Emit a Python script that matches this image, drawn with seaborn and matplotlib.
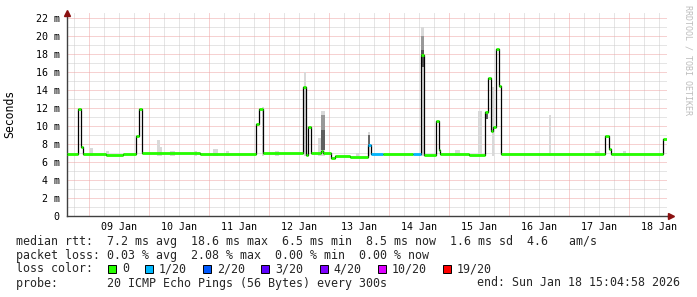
import matplotlib
matplotlib.use("Agg")
import matplotlib.pyplot as plt
from matplotlib.ticker import MultipleLocator, FixedLocator
from matplotlib.patches import Rectangle
import numpy as np
import pandas as pd
import seaborn as sns

# ---------------- data ----------------
# median RTT steps: start (day of Jan 2026, fractional), median (ms), loss index
seg_start = [8.628, 8.817, 8.867, 8.900, 9.283, 9.567, 9.775, 9.833, 9.875, 10.85,
             11.775, 11.825, 11.908, 12.572, 12.617, 12.650, 12.692, 12.867, 12.908,
             13.025, 13.100, 13.350, 13.655, 13.695, 13.905, 14.400, 14.525, 14.575,
             14.775, 14.833, 14.858, 15.333, 15.608, 15.658, 15.695, 15.738, 15.775,
             15.825, 15.862, 17.605, 17.658, 17.700, 18.572]
seg_median = [6.9, 11.9, 7.7, 6.9, 6.8, 6.9, 8.9, 11.9, 7.0, 6.9,
              10.2, 11.9, 6.95, 14.4, 6.8, 9.9, 6.95, 7.2, 6.95,
              6.45, 6.6, 6.55, 7.9, 6.85, 6.9, 6.85, 17.9, 6.8,
              10.6, 7.35, 6.85, 6.8, 11.55, 15.3, 9.4, 9.9, 18.6,
              14.5, 6.9, 8.9, 7.4, 6.9, 8.5]
seg_loss = [0] * 22 + [1, 1, 0, 1] + [0] * 17
t_end = 18.628

# smoke (spread of the 20 pings): light envelope
smoke_start = [9.017, 9.283, 10.133, 10.183, 10.35, 10.75, 11.067, 11.283, 11.883, 12.1,
               12.583, 12.817, 12.867, 13.45, 13.642, 14.525, 15.1, 15.475, 15.717,
               16.667, 17.433, 17.9]
smoke_end = [9.067, 9.333, 10.183, 10.217, 10.433, 10.8, 11.15, 11.333, 11.917, 12.167,
             12.617, 12.867, 12.933, 13.5, 13.683, 14.575, 15.183, 15.542, 15.75,
             16.7, 17.517, 17.95]
smoke_top = [7.5, 7.2, 8.4, 7.6, 7.2, 7.2, 7.4, 7.2, 12.1, 7.25,
             16.0, 8.6, 11.7, 7.0, 9.3, 21.0, 7.3, 11.65, 14.3,
             11.2, 7.2, 7.15]
# denser smoke cores
core_start = [12.867, 12.867, 13.642, 14.525, 14.525, 15.608]
core_end = [12.933, 12.933, 13.683, 14.575, 14.575, 15.658]
core_lo = [9.5, 7.3, 7.6, 18.5, 16.6, 10.8]
core_hi = [11.2, 9.5, 9.0, 20.0, 18.5, 11.4]
core_density = [0.35, 0.65, 0.6, 0.35, 0.7, 0.65]

day_ticks = [9.5, 10.5, 11.5, 12.5, 13.5, 14.5, 15.5, 16.5, 17.5, 18.5]
day_labels = ["09 Jan", "10 Jan", "11 Jan", "12 Jan", "13 Jan", "14 Jan",
              "15 Jan", "16 Jan", "17 Jan", "18 Jan"]
y_ticks = [0, 2, 4, 6, 8, 10, 12, 14, 16, 18, 20, 22]
y_labels = ["0", "2 m", "4 m", "6 m", "8 m", "10 m", "12 m", "14 m", "16 m",
            "18 m", "20 m", "22 m"]

loss_labels = ["0", "1/20", "2/20", "3/20", "4/20", "10/20", "19/20"]
loss_colors = ["#26ff00", "#00b8ff", "#0059ff", "#5e00ff", "#7e00ff", "#dd00ff", "#ff0000"]

stat_rtt = "median rtt:  7.2 ms avg  18.6 ms max  6.5 ms min  8.5 ms now  1.6 ms sd  4.6   am/s"
stat_loss = "packet loss: 0.03 % avg  2.08 % max  0.00 % min  0.00 % now"
probe_line = "probe:       20 ICMP Echo Pings (56 Bytes) every 300s"
end_line = "end: Sun Jan 18 15:04:58 2026"

# ---------------- drawing ----------------
sns.set_theme(style="white")
plt.rcParams["font.family"] = ["DejaVu Sans Mono", "DejaVu Sans"]
MONO = "DejaVu Sans Mono"

W, H = 697, 297
fig = plt.figure(figsize=(W / 100, H / 100), dpi=100)
fig.patch.set_facecolor("white")

px_per_ms = 8.955
ax_left, ax_right, ax_top, ax_bot = 66.7, 666.7, 13.0, 215.5
ax = fig.add_axes([ax_left / W, (H - ax_bot) / H, (ax_right - ax_left) / W,
                   (ax_bot - ax_top) / H])
ax.set_facecolor("white")
ax.set_xlim(seg_start[0], t_end)
ax.set_ylim(0, (ax_bot - ax_top) / px_per_ms)

# grids
ax.set_axisbelow(True)
ax.set_yticks(y_ticks)
ax.set_yticklabels(y_labels)
ax.yaxis.set_minor_locator(MultipleLocator(1))
ax.set_xticks(day_ticks)
ax.set_xticklabels(day_labels)
six_hours = [v for v in np.arange(8.75, t_end, 0.25) if abs(v - round(v)) > 1e-6]
ax.xaxis.set_minor_locator(FixedLocator(six_hours))
ax.xaxis.remove_overlapping_locs = False
dot = (0, (1, 1))
ax.grid(which="minor", axis="both", color="#cccccc", ls=dot, lw=0.72)
ax.grid(which="major", axis="y", color="#eea4a4", ls=dot, lw=0.72)
ax.grid(which="major", axis="x", visible=False)
midnights = [d - 0.5 for d in day_ticks]
ax.vlines(midnights, 0, 1, transform=ax.get_xaxis_transform(), colors="#eea4a4",
          linestyles=[dot], lw=0.72, zorder=0.8)

# smoke
ax.bar(smoke_start, np.array(smoke_top) - 6.7, width=np.array(smoke_end) - np.array(smoke_start),
       bottom=6.7, align="edge", color="#d9d9d9", lw=0, zorder=1)
gray = plt.get_cmap("Greys")
ax.bar(core_start, np.array(core_hi) - np.array(core_lo),
       width=np.array(core_end) - np.array(core_start), bottom=core_lo, align="edge",
       color=[gray(0.25 + 0.7 * d) for d in core_density], lw=0, zorder=1.5)

# median line (black steps) + loss-coloured median segments
df = pd.DataFrame({"day": seg_start + [t_end], "median": seg_median + [seg_median[-1]]})
sns.lineplot(data=df, x="day", y="median", drawstyle="steps-post", color="black",
             lw=0.9, estimator=None, ax=ax, zorder=3)
seg_end = seg_start[1:] + [t_end]
ax.hlines(seg_median, seg_start, seg_end, colors=[loss_colors[l] for l in seg_loss],
          lw=2.0, zorder=4, capstyle="butt")

ax.set_xlabel("")
ax.set_ylabel("")

# spines & ticks
for s in ["top", "right"]:
    ax.spines[s].set_visible(False)
for s in ["left", "bottom"]:
    ax.spines[s].set_color("#404040")
    ax.spines[s].set_linewidth(1.0)
ax.tick_params(axis="x", which="major", length=0, pad=5, labelsize=7.2, labelcolor="black")
ax.tick_params(axis="x", which="minor", length=2.5, color="#404040", width=0.8)
ax.tick_params(axis="y", which="both", length=3, color="#404040", width=0.8, pad=2,
               labelsize=7.2, labelcolor="black")
for lab in ax.get_xticklabels() + ax.get_yticklabels():
    lab.set_family(MONO)

# axis arrows
ax.plot([0], [1.0], marker="^", ms=5, color="#8b1010", transform=ax.transAxes,
        clip_on=False, zorder=6)
ax.plot([1.0 + 4 / 600], [0], marker=">", ms=5, color="#8b1010", transform=ax.transAxes,
        clip_on=False, zorder=6)
ax.plot([1.0, 1.0 + 4 / 600], [0, 0], color="#404040", lw=1.0, transform=ax.transAxes,
        clip_on=False, zorder=5)

# labels
fig.text(10 / W, 1 - 114 / H, "Seconds", rotation=90, ha="center", va="center",
         fontsize=8.3, family=MONO, color="black")
fig.text(688 / W, 1 - 5 / H, "RRDTOOL / TOBI OETIKER", rotation=270, ha="center", va="top",
         fontsize=6.0, family=MONO, color="#bdbdbd")

# legend / stats text
FS = 8.4
x0 = 15.5
fig.text(x0 / W, 1 - 241 / H, stat_rtt, ha="left", va="center", fontsize=FS, family=MONO)
fig.text(x0 / W, 1 - 255 / H, stat_loss, ha="left", va="center", fontsize=FS, family=MONO)
fig.text(x0 / W, 1 - 269 / H, "loss color:", ha="left", va="center", fontsize=FS, family=MONO)
fig.text(x0 / W, 1 - 283 / H, probe_line, ha="left", va="center", fontsize=FS, family=MONO)
fig.text(680 / W, 1 - 283 / H, end_line, ha="right", va="center", fontsize=FS, family=MONO)

adv = 7.12
bx = 108.3
for lab, col in zip(loss_labels, loss_colors):
    fig.patches.append(Rectangle(((bx) / W, 1 - 273 / H), 8 / W, 8 / H, facecolor=col,
                                 edgecolor="black", lw=0.7, transform=fig.transFigure,
                                 figure=fig))
    tx = bx + 13.7
    fig.text(tx / W, 1 - 269 / H, lab, ha="left", va="center", fontsize=FS, family=MONO)
    bx = tx + len(lab) * adv + 16

fig.savefig("out.png", dpi=100, facecolor="white")
